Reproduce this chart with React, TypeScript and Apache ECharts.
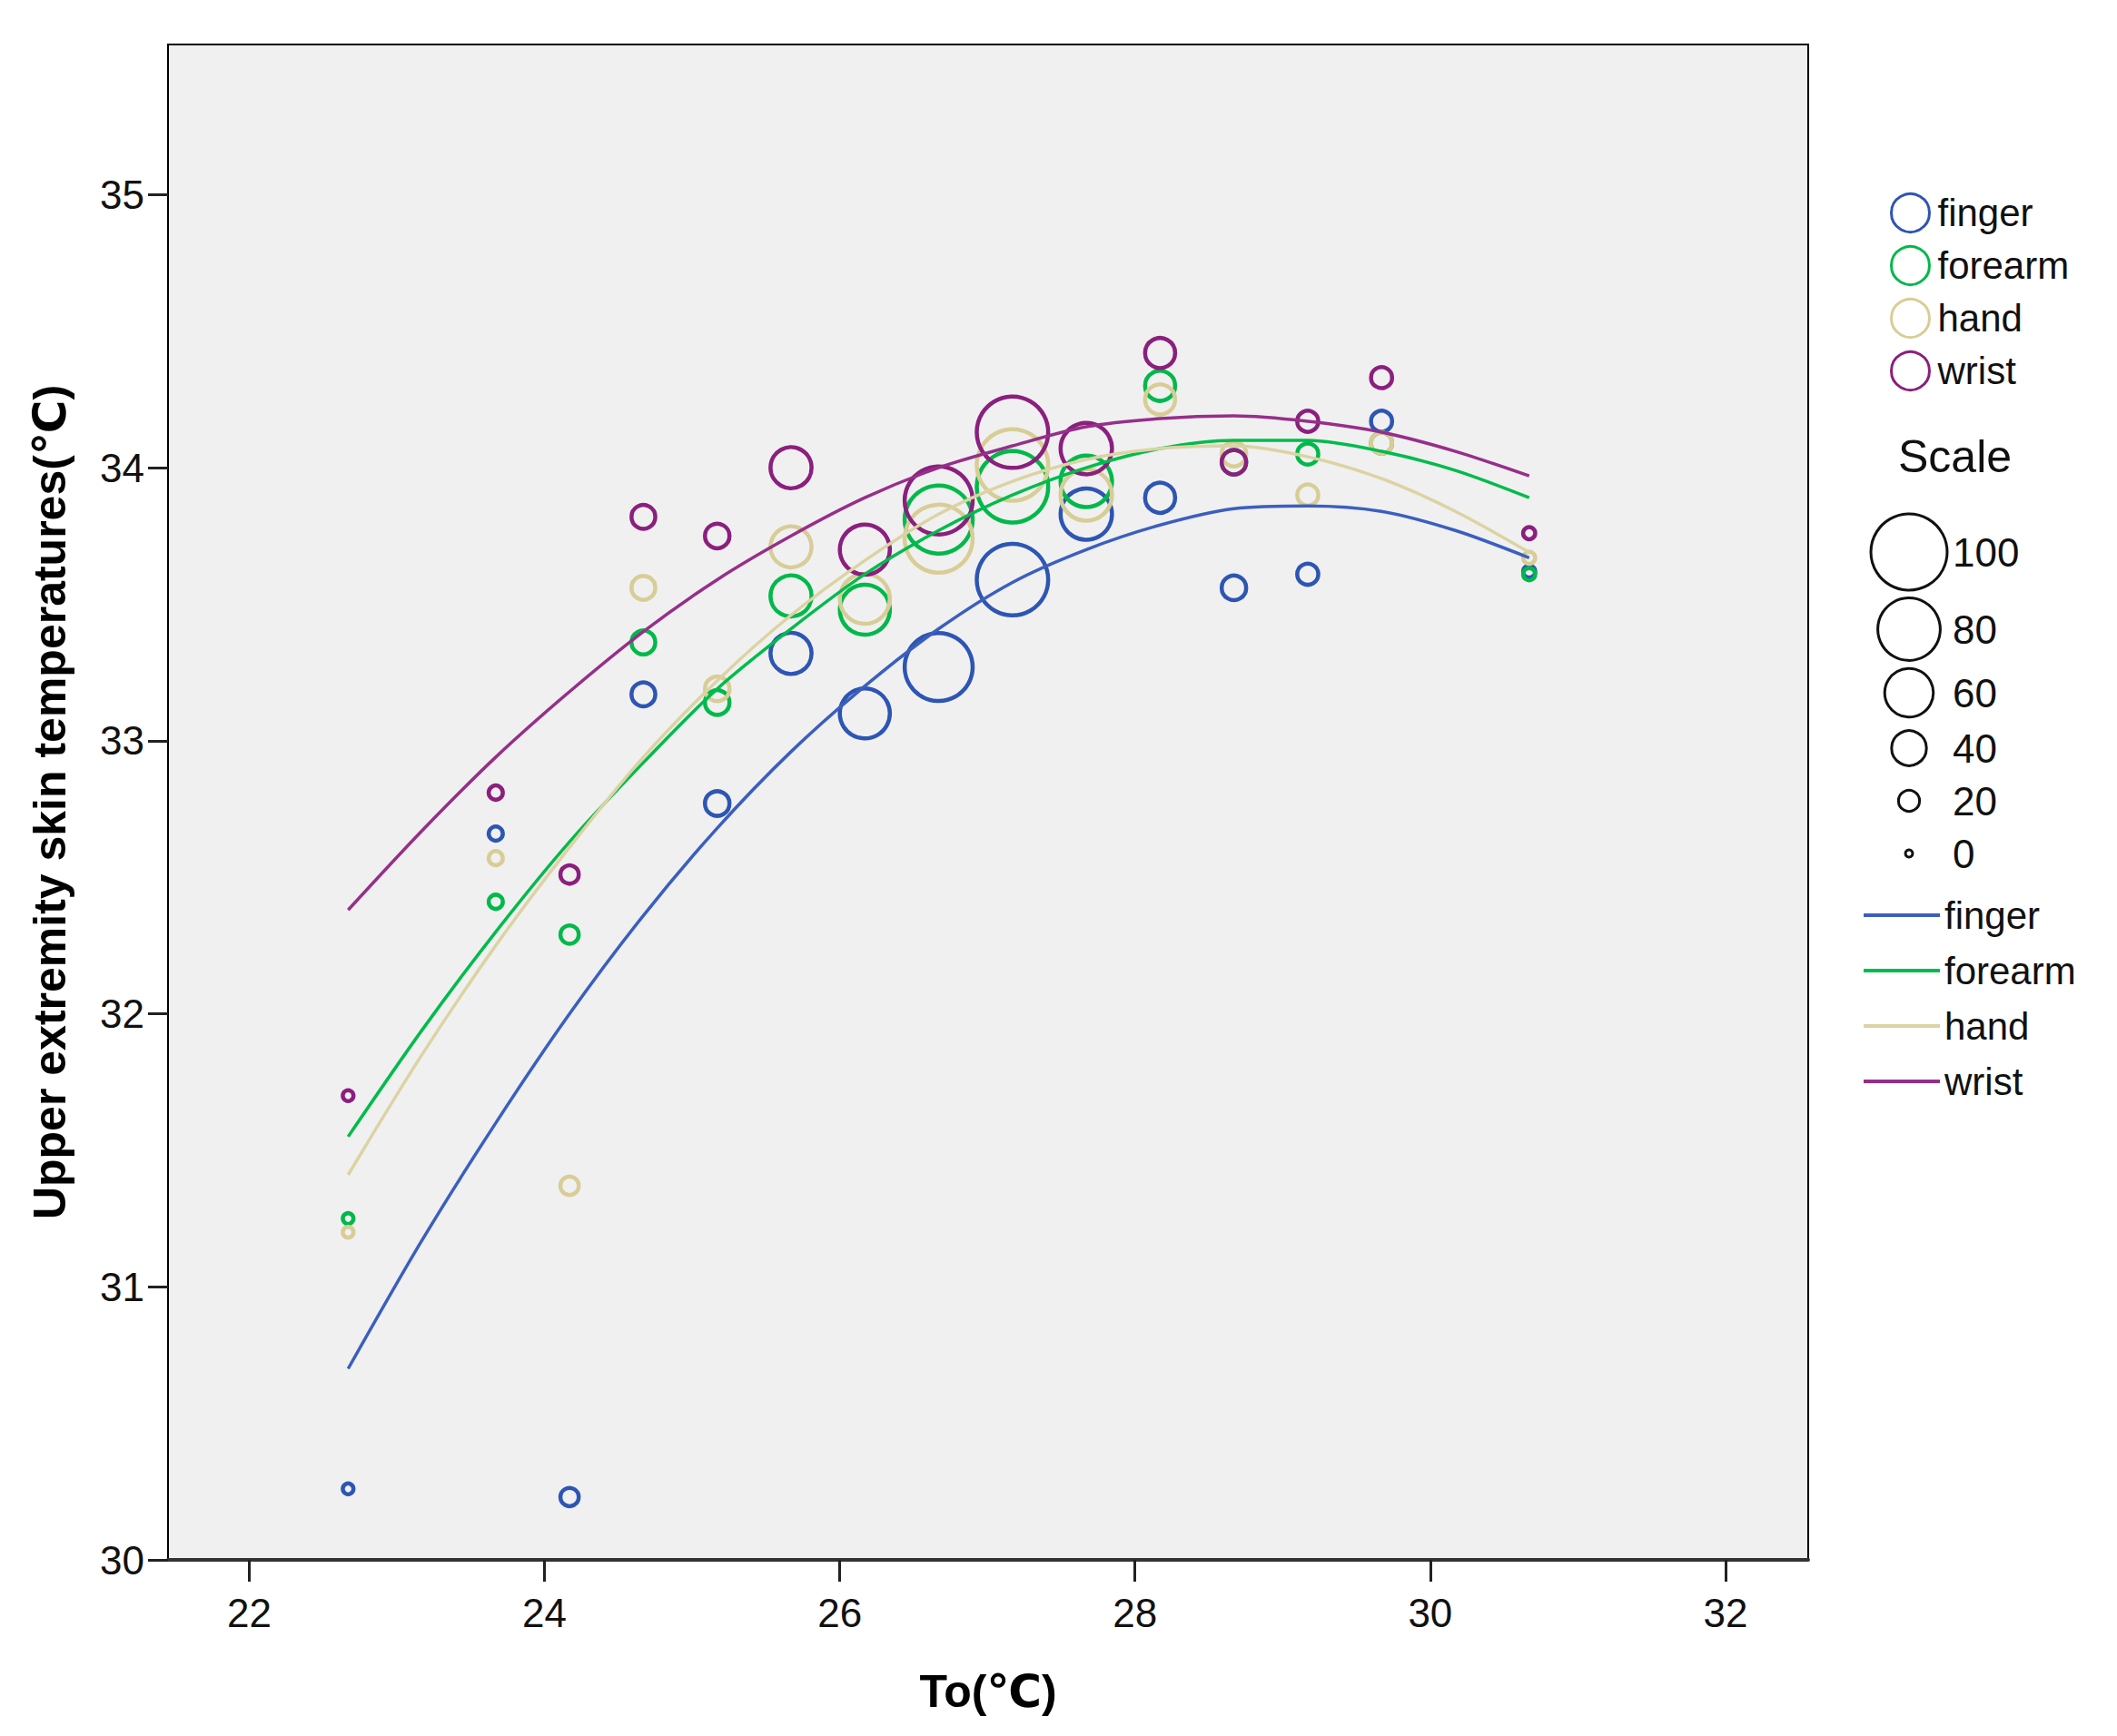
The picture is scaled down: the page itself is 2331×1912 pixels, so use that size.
import React, { useEffect, useRef } from "react";
import * as echarts from "echarts";

// ---- data ----
const temps = [22.67, 23.67, 24.17, 24.67, 25.17, 25.67, 26.17, 26.67, 27.17, 27.67, 28.17, 28.67, 29.17, 29.67, 30.67];
const sampleSizes = [5, 10, 16, 24, 25, 49, 62, 88, 93, 64, 33, 25, 20, 20, 7];

const fingerSkin = [30.26, 32.66, 30.23, 33.17, 32.77, 33.32, 33.1, 33.27, 33.59, 33.83, 33.89, 33.56, 33.61, 34.17, 33.62];
const forearmSkin = [31.25, 32.41, 32.29, 33.36, 33.14, 33.53, 33.48, 33.81, 33.93, 33.95, 34.3, 34.02, 34.05, 34.09, 33.61];
const handSkin = [31.2, 32.57, 31.37, 33.56, 33.19, 33.71, 33.52, 33.74, 34.01, 33.9, 34.25, 34.05, 33.9, 34.09, 33.67];
const wristSkin = [31.7, 32.81, 32.51, 33.82, 33.75, 34.0, 33.7, 33.88, 34.13, 34.07, 34.42, 34.02, 34.17, 34.33, 33.76];

// fitted (quadratic) curves, every half degree
const fitTemps = [22.67, 23.17, 23.67, 24.17, 24.67, 25.17, 25.67, 26.17, 26.67, 27.17, 27.67, 28.17, 28.67, 29.17, 29.67, 30.17, 30.67];
const fingerFit = [30.7, 31.17, 31.6, 32.0, 32.36, 32.68, 32.96, 33.2, 33.41, 33.58, 33.7, 33.79, 33.85, 33.86, 33.84, 33.77, 33.67];
const forearmFit = [31.55, 31.94, 32.3, 32.63, 32.92, 33.19, 33.41, 33.61, 33.77, 33.9, 34.0, 34.07, 34.1, 34.1, 34.06, 33.99, 33.89];
const handFit = [31.41, 31.85, 32.25, 32.61, 32.94, 33.22, 33.46, 33.66, 33.83, 33.95, 34.03, 34.07, 34.08, 34.04, 33.96, 33.84, 33.69];
const wristFit = [32.38, 32.67, 32.94, 33.18, 33.4, 33.59, 33.75, 33.89, 34.0, 34.08, 34.15, 34.18, 34.19, 34.17, 34.13, 34.06, 33.97];

const xTicks = [22, 24, 26, 28, 30, 32];
const yTicks = [30, 31, 32, 33, 34, 35];
const scaleValues = [100, 80, 60, 40, 20, 0];

// ---- styles / layout ----
const groups = [
  { name: "finger", pts: fingerSkin, fit: fingerFit, color: "#2d55b3", line: "#3b5fbe" },
  { name: "forearm", pts: forearmSkin, fit: forearmFit, color: "#00b94a", line: "#00bb4c" },
  { name: "hand", pts: handSkin, fit: handFit, color: "#d8cd96", line: "#dcd3a4" },
  { name: "wrist", pts: wristSkin, fit: wristFit, color: "#8b1f7e", line: "#962f89" },
];

const bubbleDiameter = (v: number) => 8 + 0.76 * v;

const GRID = { left: 185, top: 49, right: 1991, bottom: 1718 };
const scaleLegendY = [608, 693, 763, 824, 882, 940];
const TICK_FONT = "'Liberation Sans Narrow', 'Liberation Sans', Arial, sans-serif";
const FONT = "'Liberation Sans', Arial, 'DejaVu Sans', sans-serif";

export default function App() {
  const ref = useRef<HTMLDivElement>(null);

  useEffect(() => {
    const chart = echarts.init(ref.current as HTMLDivElement, null, { renderer: "svg" });

    const scatterSeries = groups.map((g) => ({
      type: "scatter",
      name: g.name,
      data: temps.map((t, i) => [t, g.pts[i], sampleSizes[i]]),
      symbol: "circle",
      symbolSize: (v: number[]) => bubbleDiameter(v[2]),
      itemStyle: { color: "rgba(0,0,0,0)", borderColor: g.color, borderWidth: 4.5, opacity: 1 },
      emphasis: { disabled: true },
      z: 2,
    }));

    const lineSeries = groups.map((g) => ({
      type: "line",
      name: g.name + " fit",
      data: fitTemps.map((t, i) => [t, g.fit[i]]),
      smooth: 0.3,
      showSymbol: false,
      symbol: "none",
      lineStyle: { color: g.line, width: 3.5 },
      itemStyle: { color: g.line },
      emphasis: { disabled: true },
      z: 3,
    }));

    const graphics: any[] = [
      {
        type: "text",
        left: 2090,
        top: 478,
        style: { text: "Scale", font: `50px ${FONT}`, fill: "#111" },
      },
    ];
    scaleValues.forEach((v, i) => {
      graphics.push({
        type: "circle",
        shape: { cx: 2102, cy: scaleLegendY[i], r: bubbleDiameter(v) / 2 },
        style: { fill: "none", stroke: "#111", lineWidth: 3 },
      });
      graphics.push({
        type: "text",
        x: 2150,
        y: scaleLegendY[i],
        style: {
          text: String(v),
          font: `44px ${FONT}`,
          fill: "#111",
          verticalAlign: "middle",
          align: "left",
        },
      });
    });

    const option: any = {
      animation: false,
      backgroundColor: "#ffffff",
      textStyle: { fontFamily: FONT },
      grid: {
        left: GRID.left,
        top: GRID.top,
        width: GRID.right - GRID.left,
        height: GRID.bottom - GRID.top,
        show: true,
        backgroundColor: "#f0f0f0",
        borderColor: "#000",
        borderWidth: 2,
        containLabel: false,
      },
      xAxis: {
        type: "value",
        min: 21.45,
        max: 32.56,
        name: "To(℃)",
        nameLocation: "middle",
        nameGap: 120,
        nameTextStyle: { fontFamily: FONT, fontWeight: "bold", fontSize: 50, color: "#000" },
        axisLine: { show: true, onZero: false, lineStyle: { color: "#333", width: 4 } },
        axisTick: { show: true, length: 24, customValues: xTicks, lineStyle: { color: "#222", width: 3 } },
        axisLabel: { customValues: xTicks, fontFamily: TICK_FONT, fontSize: 44, color: "#111", margin: 36 },
        splitLine: { show: false },
      },
      yAxis: {
        type: "value",
        min: 30,
        max: 35.55,
        name: "Upper extremity skin temperatures(℃)",
        nameLocation: "middle",
        nameGap: 105,
        nameTextStyle: { fontFamily: FONT, fontWeight: "bold", fontSize: 50, color: "#000" },
        axisLine: { show: true, onZero: false, lineStyle: { color: "#000", width: 2 } },
        axisTick: { show: true, length: 22, customValues: yTicks, lineStyle: { color: "#222", width: 3 } },
        axisLabel: { customValues: yTicks, fontFamily: TICK_FONT, fontSize: 44, color: "#111", margin: 26 },
        splitLine: { show: false },
      },
      legend: [
        {
          orient: "vertical",
          left: 2076,
          top: 207,
          itemWidth: 42,
          itemHeight: 42,
          itemGap: 13,
          icon: "circle",
          selectedMode: false,
          data: groups.map((g) => g.name),
          itemStyle: { color: "rgba(0,0,0,0)", borderWidth: 3 },
          textStyle: { fontFamily: FONT, fontSize: 42, color: "#111", padding: [0, 0, 0, 4] },
        },
        {
          orient: "vertical",
          left: 2047,
          top: 982,
          itemWidth: 84,
          itemHeight: 4,
          itemGap: 19,
          icon: "rect",
          selectedMode: false,
          data: groups.map((g) => g.name + " fit"),
          formatter: (n: string) => n.replace(" fit", ""),
          textStyle: { fontFamily: FONT, fontSize: 42, color: "#111" },
        },
      ],
      graphic: graphics,
      series: [...scatterSeries, ...lineSeries],
    };

    chart.setOption(option);
    return () => chart.dispose();
  }, []);

  return (
    <div
      ref={ref}
      style={{ position: "absolute", left: 0, top: 0, width: 2331, height: 1912, background: "#fff" }}
    />
  );
}
